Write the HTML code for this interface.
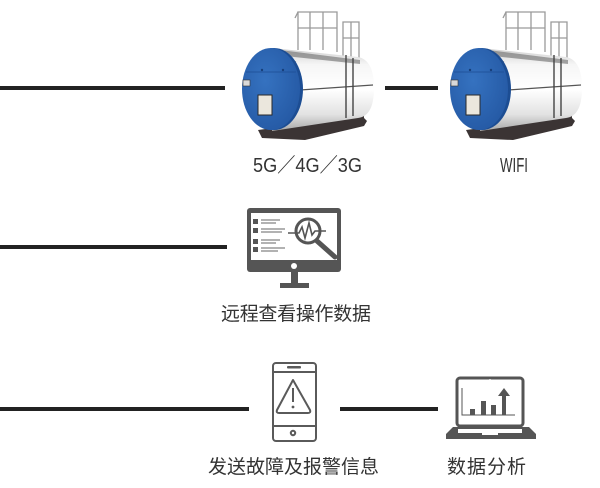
<!DOCTYPE html>
<html><head><meta charset="utf-8">
<style>
html,body{margin:0;padding:0;background:#fff;}
svg{display:block;}
text{font-family:"Liberation Sans","Noto Sans CJK SC",sans-serif;fill:#333;}
</style></head>
<body>
<svg width="600" height="488" viewBox="0 0 600 488" xmlns="http://www.w3.org/2000/svg">
<defs>
  <linearGradient id="bodyG" x1="0" y1="0" x2="0" y2="1">
    <stop offset="0" stop-color="#cfcfcf"/>
    <stop offset="0.2" stop-color="#f6f6f6"/>
    <stop offset="0.5" stop-color="#ffffff"/>
    <stop offset="0.8" stop-color="#e2e2e2"/>
    <stop offset="1" stop-color="#a8a8a8"/>
  </linearGradient>
  <radialGradient id="faceG" cx="0.4" cy="0.4" r="0.7">
    <stop offset="0" stop-color="#3572c0"/>
    <stop offset="1" stop-color="#2458a3"/>
  </radialGradient>
  <g id="boiler">
    <!-- railings -->
    <g stroke="#9a9a9a" stroke-width="1.3" fill="none">
      <path d="M298,50 L298,12 L337,12 L337,52"/>
      <path d="M310,50 L310,12 M323,50 L323,12"/>
      <path d="M298,28 L337,28"/>
      <path d="M295,18 L298,12"/>
      <path d="M343,58 L343,22 L359,22 L359,58"/>
      <path d="M351,58 L351,22 M343,38 L359,38"/>
    </g>
    <!-- base -->
    <path d="M258,130 L362,116 L367,121 L364,126 L305,140 L262,138 Z" fill="#3b3434"/>
    <rect x="350" y="104" width="14" height="20" fill="#3b3434"/>
    <!-- body -->
    <path d="M272,48 L358,57 Q374,60 374,88 Q374,116 358,118 L272,131 Z" fill="url(#bodyG)"/>
    <path d="M280,50 L360,60 L360,64 L285,56 Z" fill="#6b6b6b" opacity="0.6"/>
    <path d="M300,90 L373,85" stroke="#555" stroke-width="1.2"/>
    <path d="M346,55 L346,118 M353,58 L353,116" stroke="#444" stroke-width="1.4"/>
    <path d="M290,60 L296,62 M292,70 L292,76" stroke="#777" stroke-width="1"/>
    <!-- face -->
    <ellipse cx="274" cy="89" rx="29" ry="41" fill="#1c4d93"/>
    <ellipse cx="271" cy="89" rx="29" ry="41" fill="url(#faceG)"/>
    <path d="M246,72 L296,72" stroke="#1c4d93" stroke-width="0.8"/>
    <rect x="243" y="80" width="7" height="6" fill="#d9d9d9" stroke="#333" stroke-width="0.6"/>
    <rect x="258" y="95" width="14" height="20" fill="#ebe7dd" stroke="#2a2a2a" stroke-width="1"/>
    <circle cx="262" cy="70" r="1.2" fill="#173f7a"/>
    <circle cx="283" cy="70" r="1.2" fill="#173f7a"/>
  </g>
</defs>

<!-- connector lines -->
<rect x="0" y="86" width="225" height="4" fill="#222"/>
<rect x="385" y="86" width="53" height="4" fill="#222"/>
<rect x="0" y="245" width="227" height="4" fill="#222"/>
<rect x="0" y="407" width="249" height="4" fill="#222"/>
<rect x="340" y="407" width="98" height="4" fill="#222"/>

<!-- boilers -->
<use href="#boiler"/>
<use href="#boiler" transform="translate(208,0)"/>

<!-- monitor -->
<g>
  <rect x="247" y="208" width="94" height="64" rx="3" fill="#555"/>
  <rect x="251" y="213" width="86" height="47" fill="#fff"/>
  <circle cx="294" cy="266" r="3" fill="#fff"/>
  <rect x="291" y="272" width="7" height="11" fill="#555"/>
  <rect x="280" y="283" width="29" height="5" fill="#555"/>
  <g fill="#555">
    <rect x="253" y="219" width="5" height="5"/>
    <rect x="253" y="228" width="5" height="5"/>
    <rect x="253" y="239" width="5" height="5"/>
    <rect x="253" y="247" width="5" height="5"/>
  </g>
  <g stroke="#666" stroke-width="1">
    <path d="M261,220 L280,220 M261,223 L276,223"/>
    <path d="M261,229 L285,229 M261,232 L282,232"/>
    <path d="M261,240 L280,240 M261,243 L276,243"/>
    <path d="M261,248 L285,248 M261,251 L278,251"/>
  </g>
  <circle cx="308" cy="231" r="12" fill="#fff" stroke="#555" stroke-width="3"/>
  <path d="M288,233 L299,233 L302,227 L305,238 L309,223 L312,235 L315,231 L326,231" fill="none" stroke="#555" stroke-width="1.6"/>
  <path d="M317,241 L335,257" stroke="#555" stroke-width="5" stroke-linecap="round"/>
</g>

<!-- phone -->
<g fill="none" stroke="#5a5a5a" stroke-width="2">
  <rect x="273" y="363" width="43" height="78" rx="3"/>
  <path d="M273,372 L316,372 M273,426 L316,426"/>
  <path d="M293,380 L310,410 Q311,413 308,413 L279,413 Q276,413 277,410 Z" stroke-linejoin="round"/>
  <path d="M293,388 L293,402"/>
  <circle cx="293" cy="433" r="2.2"/>
</g>
<rect x="287" y="366" width="14" height="2.5" rx="1" fill="#5a5a5a"/>
<circle cx="293" cy="407" r="1.4" fill="#5a5a5a"/>

<!-- laptop -->
<g>
  <rect x="457" y="378" width="66" height="48" rx="3" fill="none" stroke="#555" stroke-width="3"/>
  <circle cx="490" cy="380" r="1" fill="#fff"/>
  <path d="M462,388 L462,415 L515,415" fill="none" stroke="#555" stroke-width="1"/>
  <rect x="470" y="409" width="5" height="6" fill="#555"/>
  <rect x="481" y="401" width="5" height="14" fill="#555"/>
  <rect x="491" y="405" width="5" height="10" fill="#555"/>
  <rect x="502" y="395" width="4" height="20" fill="#555"/>
  <path d="M498,396 L504,388 L510,396 Z" fill="#555"/>
  <path d="M453,427 L529,427 L536,434 L536,439 L446,439 L446,434 Z" fill="#555"/>
  <rect x="458" y="429" width="64" height="4" fill="#fff"/>
  <rect x="482" y="433" width="16" height="2" fill="#fff"/>
</g>

<!-- labels -->
<text x="253" y="172" font-size="20" textLength="109" lengthAdjust="spacingAndGlyphs">5G／4G／3G</text>
<text x="500" y="172" font-size="20" textLength="28" lengthAdjust="spacingAndGlyphs">WIFI</text>
<text x="221" y="320" font-size="19" textLength="150">远程查看操作数据</text>
<text x="208" y="473" font-size="19" textLength="171">发送故障及报警信息</text>
<text x="447" y="473" font-size="19" textLength="79">数据分析</text>
</svg>
</body></html>
